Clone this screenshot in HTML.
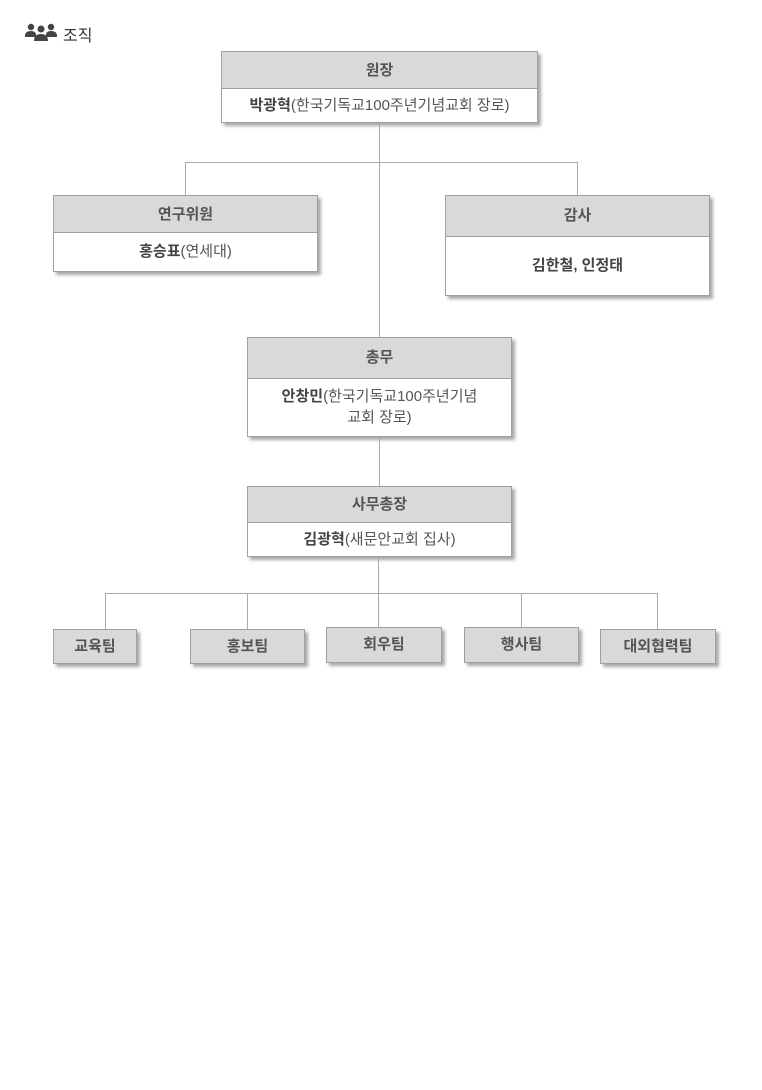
<!DOCTYPE html>
<html><head><meta charset="utf-8"><style>
body{margin:0;width:762px;height:1090px;background:#fff;position:relative;font-family:"Liberation Sans","Noto Sans CJK KR",sans-serif;color:#444;}
.b{position:absolute;border:1px solid #a0a0a0;background:#fff;box-shadow:3px 3px 3px #aaa;box-sizing:border-box;}
.h{background:#d9d9d9;border-bottom:1px solid #a0a0a0;text-align:center;font-size:15px;font-weight:bold;color:#555;box-sizing:border-box;}
.c{text-align:center;font-size:15px;color:#555;}
.c b{color:#444;}
.l{position:absolute;background:#aaa;}
.t{position:absolute;background:#d9d9d9;border:1px solid #a0a0a0;box-shadow:3px 3px 3px #aaa;box-sizing:border-box;text-align:center;font-size:15px;font-weight:bold;color:#555;line-height:33px;}
</style></head><body>
<svg style="position:absolute;left:25px;top:23px" width="32" height="18" viewBox="0 0 32 18">
<circle cx="6" cy="4" r="3.2" fill="#444"/><circle cx="26" cy="4" r="3.2" fill="#444"/><circle cx="16" cy="6" r="3.5" fill="#444"/>
<path d="M0 13 Q0 8 6 8 Q11 8 11 12 L11 14 L0 14Z" fill="#444"/><path d="M32 13 Q32 8 26 8 Q21 8 21 12 L21 14 L32 14Z" fill="#444"/>
<path d="M9 18 Q9 11 16 11 Q23 11 23 18Z" fill="#444"/></svg>
<div style="position:absolute;left:63px;top:22px;font-size:16px;color:#333">조직</div>

<div class="l" style="left:379px;top:122px;width:1px;height:215px"></div>
<div class="l" style="left:185px;top:162px;width:393px;height:1px"></div>
<div class="l" style="left:185px;top:162px;width:1px;height:33px"></div>
<div class="l" style="left:577px;top:162px;width:1px;height:33px"></div>
<div class="l" style="left:379px;top:436px;width:1px;height:50px"></div>
<div class="l" style="left:378px;top:556px;width:1px;height:72px"></div>
<div class="l" style="left:105px;top:593px;width:553px;height:1px"></div>
<div class="l" style="left:105px;top:593px;width:1px;height:36px"></div>
<div class="l" style="left:247px;top:593px;width:1px;height:36px"></div>
<div class="l" style="left:521px;top:593px;width:1px;height:34px"></div>
<div class="l" style="left:657px;top:593px;width:1px;height:36px"></div>

<div class="b" style="left:221px;top:51px;width:317px;height:72px"><div class="h" style="height:37px;line-height:37px">원장</div><div class="c" style="line-height:33px"><b>박광혁</b>(한국기독교100주년기념교회 장로)</div></div>
<div class="b" style="left:53px;top:195px;width:265px;height:77px"><div class="h" style="height:37px;line-height:37px">연구위원</div><div class="c" style="line-height:37px"><b>홍승표</b>(연세대)</div></div>
<div class="b" style="left:445px;top:195px;width:265px;height:101px"><div class="h" style="height:41px;line-height:40px">감사</div><div class="c" style="line-height:58px"><b>김한철, 인정태</b></div></div>
<div class="b" style="left:247px;top:337px;width:265px;height:100px"><div class="h" style="height:41px;line-height:40px">총무</div><div class="c" style="line-height:21px;padding-top:7px"><b>안창민</b>(한국기독교100주년기념<br>교회 장로)</div></div>
<div class="b" style="left:247px;top:486px;width:265px;height:71px"><div class="h" style="height:36px;line-height:36px">사무총장</div><div class="c" style="line-height:33px"><b>김광혁</b>(새문안교회 집사)</div></div>

<div class="t" style="left:53px;top:629px;width:84px;height:35px">교육팀</div>
<div class="t" style="left:190px;top:629px;width:115px;height:35px">홍보팀</div>
<div class="t" style="left:326px;top:627px;width:116px;height:36px">회우팀</div>
<div class="t" style="left:464px;top:627px;width:115px;height:36px">행사팀</div>
<div class="t" style="left:600px;top:629px;width:116px;height:35px">대외협력팀</div>
</body></html>
